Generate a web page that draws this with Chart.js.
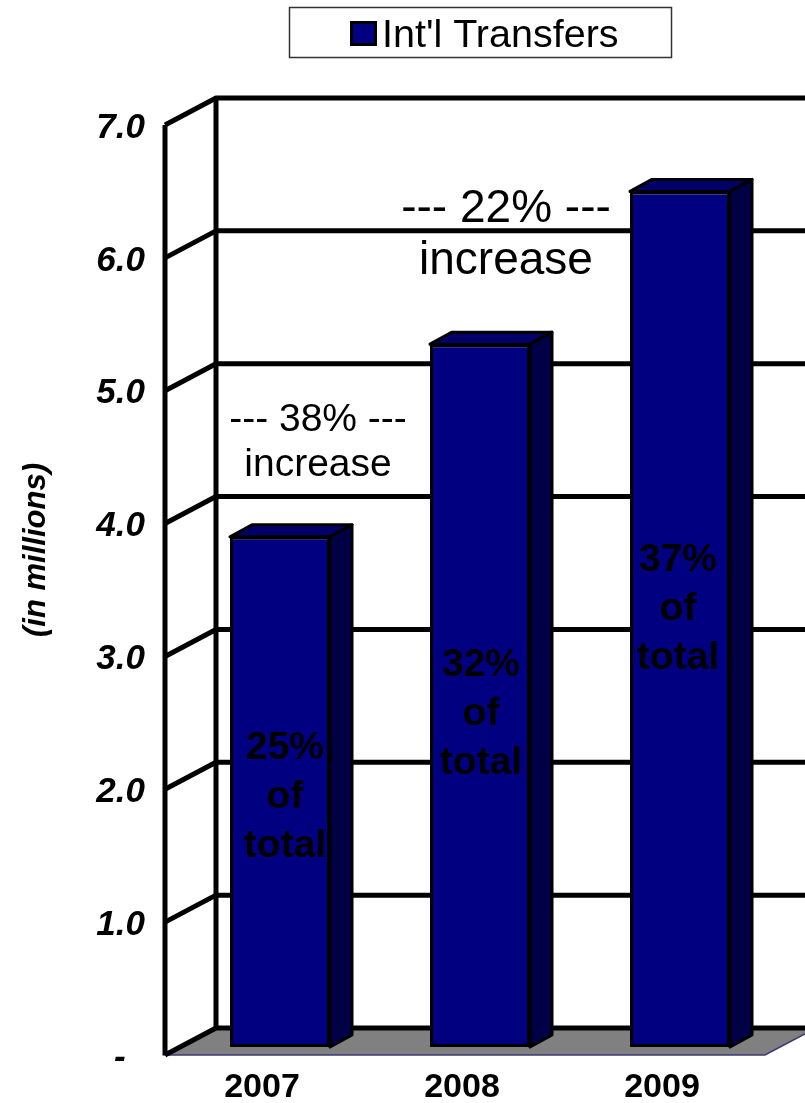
<!DOCTYPE html>
<html>
<head>
<meta charset="utf-8">
<title>Int'l Transfers</title>
<script src="https://cdn.jsdelivr.net/npm/chart.js@4.4.1/dist/chart.umd.min.js"></script>
<style>
  html, body { margin: 0; padding: 0; background: #ffffff; }
  canvas { display: block; }
</style>
</head>
<body>
<canvas id="chart" width="805" height="1103"></canvas>
<script>
// ---- data ----
const years = ['2007', '2008', '2009'];
const transfers = [3.84, 5.29, 6.44];          // millions
const seriesName = "Int'l Transfers";
const yTicks = [0, 1, 2, 3, 4, 5, 6, 7];
const shareOfTotal = ['25%', '32%', '37%'];
const growthRates = ['38%', '22%'];

// ---- look & layout ----
const FAMILY = '"Liberation Sans", Arial, Helvetica, sans-serif';
const NAVY = '#000080';
const BAR_TOP = '#000068';
const BAR_SIDE = '#000046';
const FLOOR = '#808080';

// oblique depth offsets, relative to the plane the bar fronts stand on
const FRONT = { dx: -15, dy: 8 };     // front edge of floor / left wall
const BACK = { dx: 36, dy: -19 };     // back wall
const BAR_DEPTH = { dx: 22, dy: -12 };

// growth notes: anchored in category index / value units
const growthNotes = [
  { text: growthRates[0], x: 0.19, y: 4.64, yLine2: 4.295, size: 39 },
  { text: growthRates[1], x: 1.13, y: 6.21, yLine2: 5.82, size: 46 }
];
// share-of-total text inside each bar: first baseline (value units) and x nudge (px)
const shareNotes = [
  { y: 2.17, nudge: 5 },
  { y: 2.79, nudge: 1 },
  { y: 3.58, nudge: -2 }
];

const threeD = {
  id: 'threeD',
  beforeDatasetsDraw(chart) {
    const { ctx, chartArea: a, scales: { y } } = chart;
    const py = v => y.getPixelForValue(v);
    const L = a.left, R = a.right;
    const y0 = py(0), yTop = py(y.max);
    ctx.save();

    // floor
    ctx.beginPath();
    ctx.moveTo(L + FRONT.dx, y0 + FRONT.dy);
    ctx.lineTo(L + BACK.dx, y0 + BACK.dy);
    ctx.lineTo(R + BACK.dx, y0 + BACK.dy);
    ctx.lineTo(R + FRONT.dx, y0 + FRONT.dy);
    ctx.closePath();
    ctx.fillStyle = FLOOR;
    ctx.fill();
    ctx.lineWidth = 1.5;
    ctx.strokeStyle = '#3a3a72';
    ctx.stroke();

    // gridlines across the side wall and the back wall
    ctx.strokeStyle = '#000';
    ctx.lineWidth = 5;
    ctx.lineJoin = 'round';
    ctx.lineCap = 'butt';
    y.ticks.forEach(t => {
      const p = py(t.value);
      ctx.beginPath();
      ctx.moveTo(L + FRONT.dx, p + FRONT.dy);
      ctx.lineTo(L + BACK.dx, p + BACK.dy);
      ctx.lineTo(R + BACK.dx, p + BACK.dy);
      ctx.stroke();
    });

    // side wall vertical edges
    ctx.beginPath();
    ctx.moveTo(L + FRONT.dx, yTop + FRONT.dy);
    ctx.lineTo(L + FRONT.dx, y0 + FRONT.dy);
    ctx.moveTo(L + BACK.dx, yTop + BACK.dy);
    ctx.lineTo(L + BACK.dx, y0 + BACK.dy);
    ctx.stroke();

    // top and side faces of each bar (the front face is drawn by Chart.js)
    const d = BAR_DEPTH;
    chart.getDatasetMeta(0).data.forEach(bar => {
      const { x, y: top, base, width } = bar.getProps(['x', 'y', 'base', 'width'], true);
      const l = x - width / 2, r = x + width / 2;
      ctx.lineWidth = 3;
      ctx.strokeStyle = '#000';
      ctx.beginPath();
      ctx.moveTo(l, top);
      ctx.lineTo(l + d.dx, top + d.dy);
      ctx.lineTo(r + d.dx, top + d.dy);
      ctx.lineTo(r, top);
      ctx.closePath();
      ctx.fillStyle = BAR_TOP;
      ctx.fill();
      ctx.stroke();
      ctx.beginPath();
      ctx.moveTo(r, top);
      ctx.lineTo(r + d.dx, top + d.dy);
      ctx.lineTo(r + d.dx, base + d.dy);
      ctx.lineTo(r, base);
      ctx.closePath();
      ctx.fillStyle = BAR_SIDE;
      ctx.fill();
      ctx.stroke();
    });
    ctx.restore();
  },
  afterDatasetsDraw(chart) {
    const { ctx, scales: { x, y } } = chart;
    ctx.save();
    ctx.fillStyle = '#000';
    ctx.textAlign = 'center';
    ctx.textBaseline = 'alphabetic';

    // growth notes between the bars
    growthNotes.forEach(n => {
      ctx.font = `${n.size}px ${FAMILY}`;
      const cx = x.getPixelForValue(n.x);
      ctx.fillText(`--- ${n.text} ---`, cx, y.getPixelForValue(n.y));
      ctx.fillText('increase', cx, y.getPixelForValue(n.yLine2));
    });

    // share of total inside the bars
    ctx.font = `bold 39px ${FAMILY}`;
    chart.getDatasetMeta(0).data.forEach((bar, i) => {
      const n = shareNotes[i];
      const cx = bar.x + n.nudge;
      const b = y.getPixelForValue(n.y);
      [shareOfTotal[i], 'of', 'total'].forEach((line, k) => {
        ctx.fillText(line, cx, b + k * 49);
      });
    });

    // value axis title
    ctx.save();
    ctx.translate(45, 550);
    ctx.rotate(-Math.PI / 2);
    ctx.font = `italic bold 31px ${FAMILY}`;
    ctx.fillText('(in millions)', 0, 0);
    ctx.restore();

    // legend
    ctx.lineWidth = 1.5;
    ctx.strokeStyle = '#333';
    ctx.strokeRect(289.5, 7.5, 382, 50);
    ctx.fillStyle = NAVY;
    ctx.fillRect(351, 22, 25, 23);
    ctx.lineWidth = 3;
    ctx.strokeStyle = '#000';
    ctx.strokeRect(351.5, 22.5, 24, 22);
    ctx.fillStyle = '#000';
    ctx.textAlign = 'left';
    ctx.font = `39.5px ${FAMILY}`;
    ctx.fillText(chart.data.datasets[0].label, 382, 47);
    ctx.restore();
  }
};

new Chart(document.getElementById('chart'), {
  type: 'bar',
  data: {
    labels: years,
    datasets: [{
      label: seriesName,
      data: transfers,
      backgroundColor: NAVY,
      borderColor: '#000',
      borderWidth: 3,
      borderSkipped: false,
      barPercentage: 0.5,
      categoryPercentage: 1
    }]
  },
  options: {
    responsive: false,
    animation: false,
    devicePixelRatio: 1,
    layout: { padding: { top: 117, right: 25, bottom: 0, left: 0 } },
    plugins: { legend: { display: false }, tooltip: { enabled: false } },
    scales: {
      x: {
        grid: { display: false, drawTicks: false },
        border: { display: false },
        ticks: {
          color: '#000',
          font: { family: FAMILY, size: 34, weight: 'bold' },
          padding: 20,
          labelOffset: -18,
          maxRotation: 0
        },
        afterFit(s) { s.height = 55; }
      },
      y: {
        min: 0,
        max: 7,
        grid: { display: false, drawTicks: false },
        border: { display: false },
        afterBuildTicks(s) { s.ticks = yTicks.map(v => ({ value: v })); },
        ticks: {
          color: '#000',
          font: { family: FAMILY, size: 35, style: 'italic', weight: 'bold' },
          padding: 35,
          labelOffset: 11,
          callback: v => (v === 0 ? '-  ' : Number(v).toFixed(1))
        },
        afterFit(s) { s.width = 180; }
      }
    }
  },
  plugins: [threeD]
});
</script>
</body>
</html>
